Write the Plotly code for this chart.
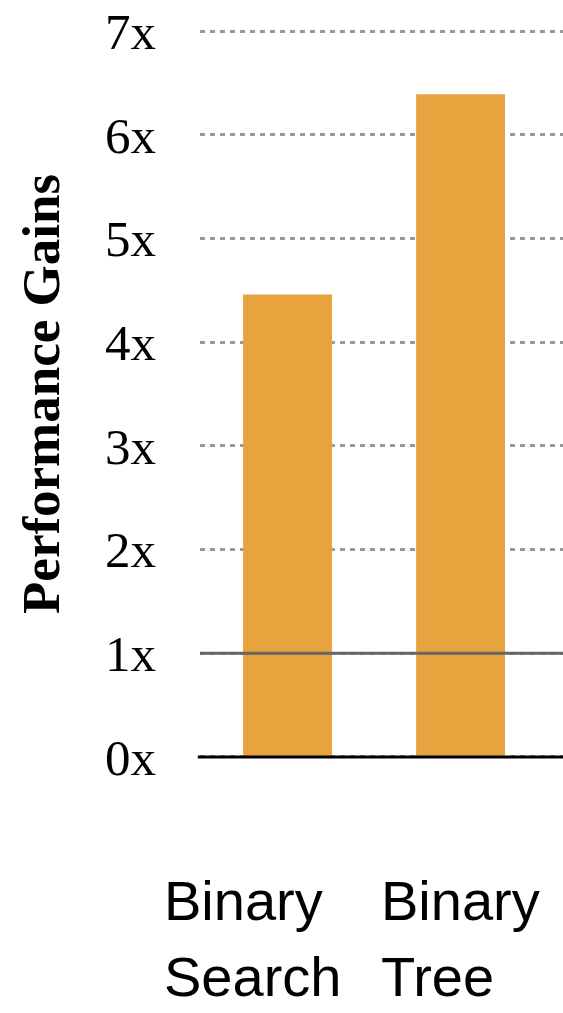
import plotly.graph_objects as go

categories = ["Binary Search", "Binary Tree"]
label_lines = [["Binary", "Search"], ["Binary", "Tree"]]
gains = [4.46, 6.39]
y_ticks = [0, 1, 2, 3, 4, 5, 6, 7]
y_tick_labels = [f"{v}x" for v in y_ticks]

BAR_COLOR = "#E7A33E"

fig = go.Figure()
fig.add_trace(go.Bar(
    x=categories, y=gains, marker=dict(color=BAR_COLOR, line=dict(width=0)),
    width=0.514, hoverinfo="skip"
))

# reference line at 1x (above bars)
fig.add_shape(type="line", xref="paper", x0=0, x1=1, yref="y", y0=1, y1=1,
              line=dict(color="#666666", width=3), layer="above")
# baseline at 0x
fig.add_shape(type="line", xref="paper", x0=-0.006, x1=1, yref="y", y0=0, y1=0,
              line=dict(color="#000000", width=3), layer="above")

# left-aligned two-line category labels
shifts = [-124.5, -80.5]
for cat, lines, sh in zip(categories, label_lines, shifts):
    for i, ln in enumerate(lines):
        fig.add_annotation(
            x=cat, xref="x", y=0, yref="paper", xanchor="left", yanchor="top",
            xshift=sh, yshift=-109 - 76 * i, text=ln, showarrow=False,
            font=dict(family="Liberation Sans, Arial, sans-serif", size=56, color="#000000"),
            align="left", borderpad=0,
        )

# y-axis title
fig.add_annotation(
    x=-0.438, xref="paper", y=0.5, yref="paper", xanchor="center", yanchor="middle",
    text="<b>Performance Gains</b>", textangle=-90, showarrow=False,
    font=dict(family="Liberation Serif, Times New Roman, serif", size=53, color="#000000"),
)

fig.update_layout(
    width=563, height=1013,
    margin=dict(l=200, r=0, t=29, b=254),
    paper_bgcolor="white", plot_bgcolor="white",
    showlegend=False,
    xaxis=dict(range=[-0.506, 1.592], showticklabels=False, showgrid=False,
               zeroline=False, showline=False, ticks=""),
    yaxis=dict(range=[-0.0195, 7.0195], tickvals=y_ticks, ticktext=y_tick_labels,
               showgrid=True, gridcolor="#999999", gridwidth=2.5, griddash="5px,5px",
               zeroline=False, showline=False, ticks="", ticklabelstandoff=43,
               tickfont=dict(family="Liberation Serif, Times New Roman, serif", size=51, color="#000000")),
)

fig.write_html("out.html")
